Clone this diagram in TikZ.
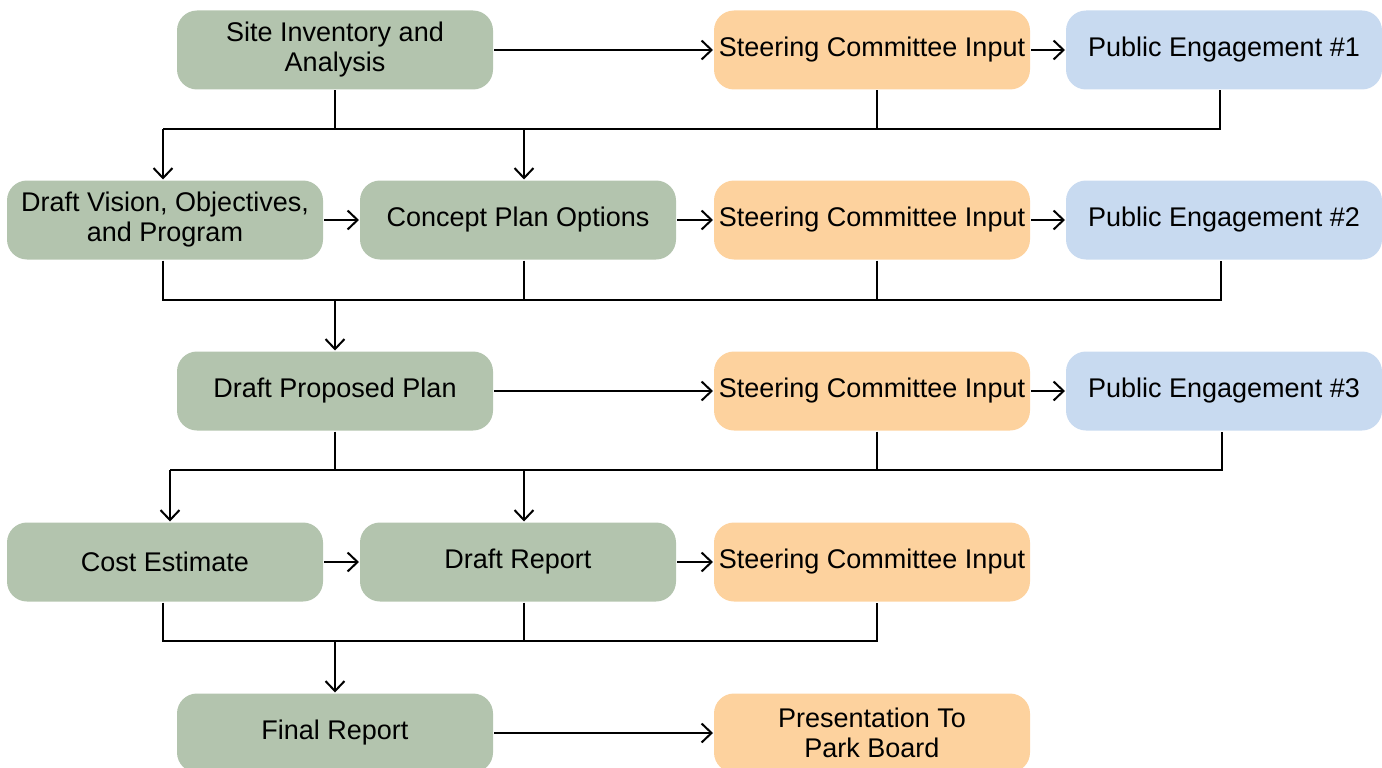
\documentclass[tikz,border=0pt]{standalone}
\usepackage{fontspec}
\setmainfont{Liberation Sans}
\usetikzlibrary{arrows.meta}

\definecolor{stepgreen}{RGB}{179,196,174}
\definecolor{inputorange}{RGB}{253,210,158}
\definecolor{publicblue}{RGB}{200,218,240}

\tikzset{
  box/.style={rounded corners=20pt, minimum width=316pt, minimum height=79pt,
    inner sep=0pt, align=center, font=\fontsize{27}{30}\selectfont},
  work/.style={box, fill=stepgreen},
  steer/.style={box, fill=inputorange},
  public/.style={box, fill=publicblue},
  arr/.style={-{Straight Barb[length=10pt,width=19pt]}}
}

\begin{document}
\begin{tikzpicture}[x=1pt, y=-1pt, line width=2pt]
\useasboundingbox (0,0) rectangle (1382,768);

% row 1
\node [work]   (site) at (335, 50)  {Site Inventory and\\Analysis};
\node [steer]  (sc1)  at (872, 50)  {Steering Committee Input};
\node [public] (pe1)  at (1224, 50) {Public Engagement \#1};

% row 2
\node [work]   (vision)  at (165, 220)  {Draft Vision, Objectives,\\and Program};
\node [work]   (concept) at (518, 220)  {Concept Plan Options};
\node [steer]  (sc2)     at (872, 220)  {Steering Committee Input};
\node [public] (pe2)     at (1224, 220) {Public Engagement \#2};

% row 3
\node [work]   (proposed) at (335, 391)  {Draft Proposed Plan};
\node [steer]  (sc3)      at (872, 391)  {Steering Committee Input};
\node [public] (pe3)      at (1224, 391) {Public Engagement \#3};

% row 4
\node [work]  (cost)   at (165, 562) {Cost Estimate};
\node [work]  (report) at (518, 562) {Draft Report};
\node [steer] (sc4)    at (872, 562) {Steering Committee Input};

% row 5
\node [work]  (final)   at (335, 733) {Final Report};
\node [steer] (present) at (872, 733) {Presentation To\\Park Board};

% bus lines
\coordinate (b1) at (0, 129);
\coordinate (b2) at (0, 300);
\coordinate (b3) at (0, 470);
\coordinate (b4) at (0, 641);

% row 1 connectors
\draw [arr] (site) -- (sc1);
\draw [arr] (sc1) -- (pe1);
\draw (site.south) -- (site.south |- b1);
\draw ([xshift=5pt]sc1.south) -- ([xshift=5pt]sc1.south |- b1);
\draw ([xshift=-2pt]vision.north |- b1) -- ([xshift=-4pt]pe1.south |- b1) -- ([xshift=-4pt]pe1.south);
\draw [arr] ([xshift=-2pt]vision.north |- b1) -- ([xshift=-2pt]vision.north);
\draw [arr] ([xshift=6pt]concept.north |- b1) -- ([xshift=6pt]concept.north);

% row 2 connectors
\draw [arr] (vision) -- (concept);
\draw [arr] (concept) -- (sc2);
\draw [arr] (sc2) -- (pe2);
\draw ([xshift=-2pt]vision.south) |- ([xshift=-3pt]pe2.south |- b2) -- ([xshift=-3pt]pe2.south);
\draw ([xshift=6pt]concept.south) -- ([xshift=6pt]concept.south |- b2);
\draw ([xshift=5pt]sc2.south) -- ([xshift=5pt]sc2.south |- b2);
\draw [arr] (proposed.north |- b2) -- (proposed.north);

% row 3 connectors
\draw [arr] (proposed) -- (sc3);
\draw [arr] (sc3) -- (pe3);
\draw (proposed.south) -- (proposed.south |- b3);
\draw ([xshift=5pt]sc3.south) -- ([xshift=5pt]sc3.south |- b3);
\draw ([xshift=5pt]cost.north |- b3) -- ([xshift=-2pt]pe3.south |- b3) -- ([xshift=-2pt]pe3.south);
\draw [arr] ([xshift=5pt]cost.north |- b3) -- ([xshift=5pt]cost.north);
\draw [arr] ([xshift=6pt]report.north |- b3) -- ([xshift=6pt]report.north);

% row 4 connectors
\draw [arr] (cost) -- (report);
\draw [arr] (report) -- (sc4);
\draw ([xshift=-2pt]cost.south) |- ([xshift=5pt]sc4.south |- b4) -- ([xshift=5pt]sc4.south);
\draw ([xshift=6pt]report.south) -- ([xshift=6pt]report.south |- b4);
\draw [arr] (final.north |- b4) -- (final.north);

% row 5 connectors
\draw [arr] (final) -- (present);
\end{tikzpicture}
\end{document}
